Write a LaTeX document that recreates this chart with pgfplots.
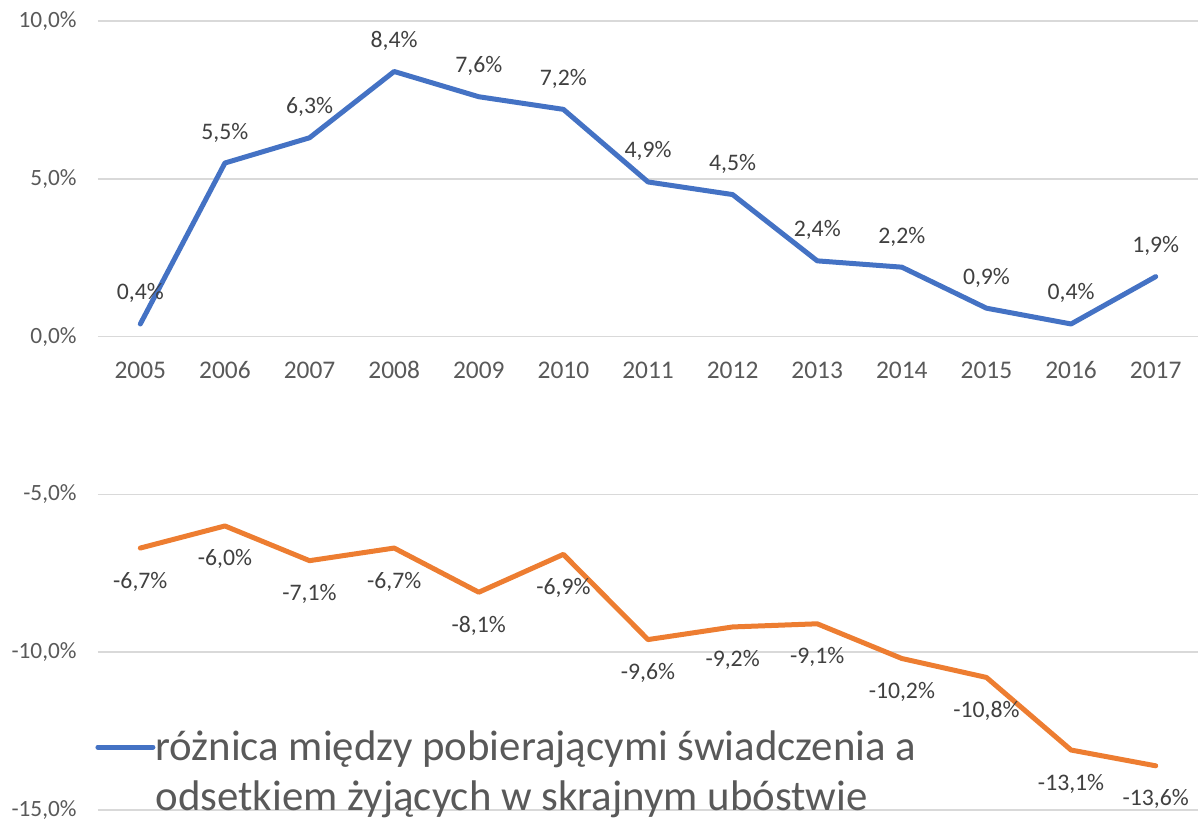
\documentclass[border=0pt]{standalone}
\usepackage{fontspec}
\setmainfont{Carlito}
\usepackage{pgfplots}
\pgfplotsset{compat=1.18}

\definecolor{xlblue}{HTML}{4472C4}
\definecolor{xlorange}{HTML}{ED7D31}
\definecolor{gridgray}{HTML}{D9D9D9}
\definecolor{ticktext}{HTML}{595959}
\definecolor{labeltext}{HTML}{404040}

\begin{document}
\begin{tikzpicture}

\begin{axis}[
  name=ax,
  scale only axis, width=550bp, height=394.5bp,
  xmin=-0.5, xmax=12.5, ymin=-15, ymax=10,
  clip=false,
  axis x line=middle, axis y line=left,
  x axis line style={draw=gridgray, line width=0.75bp, -},
  y axis line style={draw=none},
  ymajorgrids, grid style={gridgray, line width=0.75bp},
  major tick length=0pt,
  /pgf/number format/assume math mode=true,
  xtick={0,1,2,3,4,5,6,7,8,9,10,11,12},
  xticklabels={2005,2006,2007,2008,2009,2010,2011,2012,2013,2014,2015,2016,2017},
  xticklabel style={anchor=base, yshift=-21bp, font=\fontsize{12.75}{15}\selectfont, text=ticktext},
  ytick={-15,-10,-5,0,5,10},
  yticklabel={\pgfmathprintnumber[fixed,fixed zerofill,precision=1,use comma]{\tick}\%},
  yticklabel style={anchor=east, inner sep=0pt, xshift=-10.5bp, font=\fontsize{11.7}{14}\selectfont, text=ticktext},
  nodes near coords={\pgfmathprintnumber[fixed,fixed zerofill,precision=1,use comma]{\pgfplotspointmeta}\%},
  legend cell align=left,
  legend image code/.code={\draw[#1, line width=2.5bp, line cap=round] (0bp,12.5bp) -- (27.5bp,12.5bp);},
  legend style={
    at={(axis description cs:-0.0027,0.048)}, anchor=west,
    draw=none, fill=none, inner sep=0pt,
    nodes={inner sep=0pt, align=left},
    column sep=0bp,
    font=\fontsize{21.5}{25}\selectfont, text=ticktext,
  },
]

% difference: recipients of benefits vs. share living in extreme poverty
\addplot[xlblue, line width=2.5bp, line cap=round, line join=round,
  every node near coord/.append style={anchor=base, yshift=12bp,
    font=\fontsize{11.9}{14}\selectfont, text=labeltext}]
  coordinates {
  (0,0.4) (1,5.5) (2,6.3) (3,8.4) (4,7.6) (5,7.2) (6,4.9)
  (7,4.5) (8,2.4) (9,2.2) (10,0.9) (11,0.4) (12,1.9)
};
\addlegendentry{różnica między pobierającymi świadczenia a\\odsetkiem żyjących w skrajnym ubóstwie}

% second series (not in the legend)
\addplot[xlorange, line width=2.5bp, line cap=round, line join=round, forget plot,
  every node near coord/.append style={anchor=base, yshift=-20bp,
    font=\fontsize{11.9}{14}\selectfont, text=labeltext}]
  coordinates {
  (0,-6.7) (1,-6.0) (2,-7.1) (3,-6.7) (4,-8.1) (5,-6.9) (6,-9.6)
  (7,-9.2) (8,-9.1) (9,-10.2) (10,-10.8) (11,-13.1) (12,-13.6)
};

\end{axis}

\pgfresetboundingbox
\path[use as bounding box] ([shift={(-49bp,-4.5bp)}]ax.south west) rectangle ([shift={(0bp,10.5bp)}]ax.north east);

\end{tikzpicture}
\end{document}
